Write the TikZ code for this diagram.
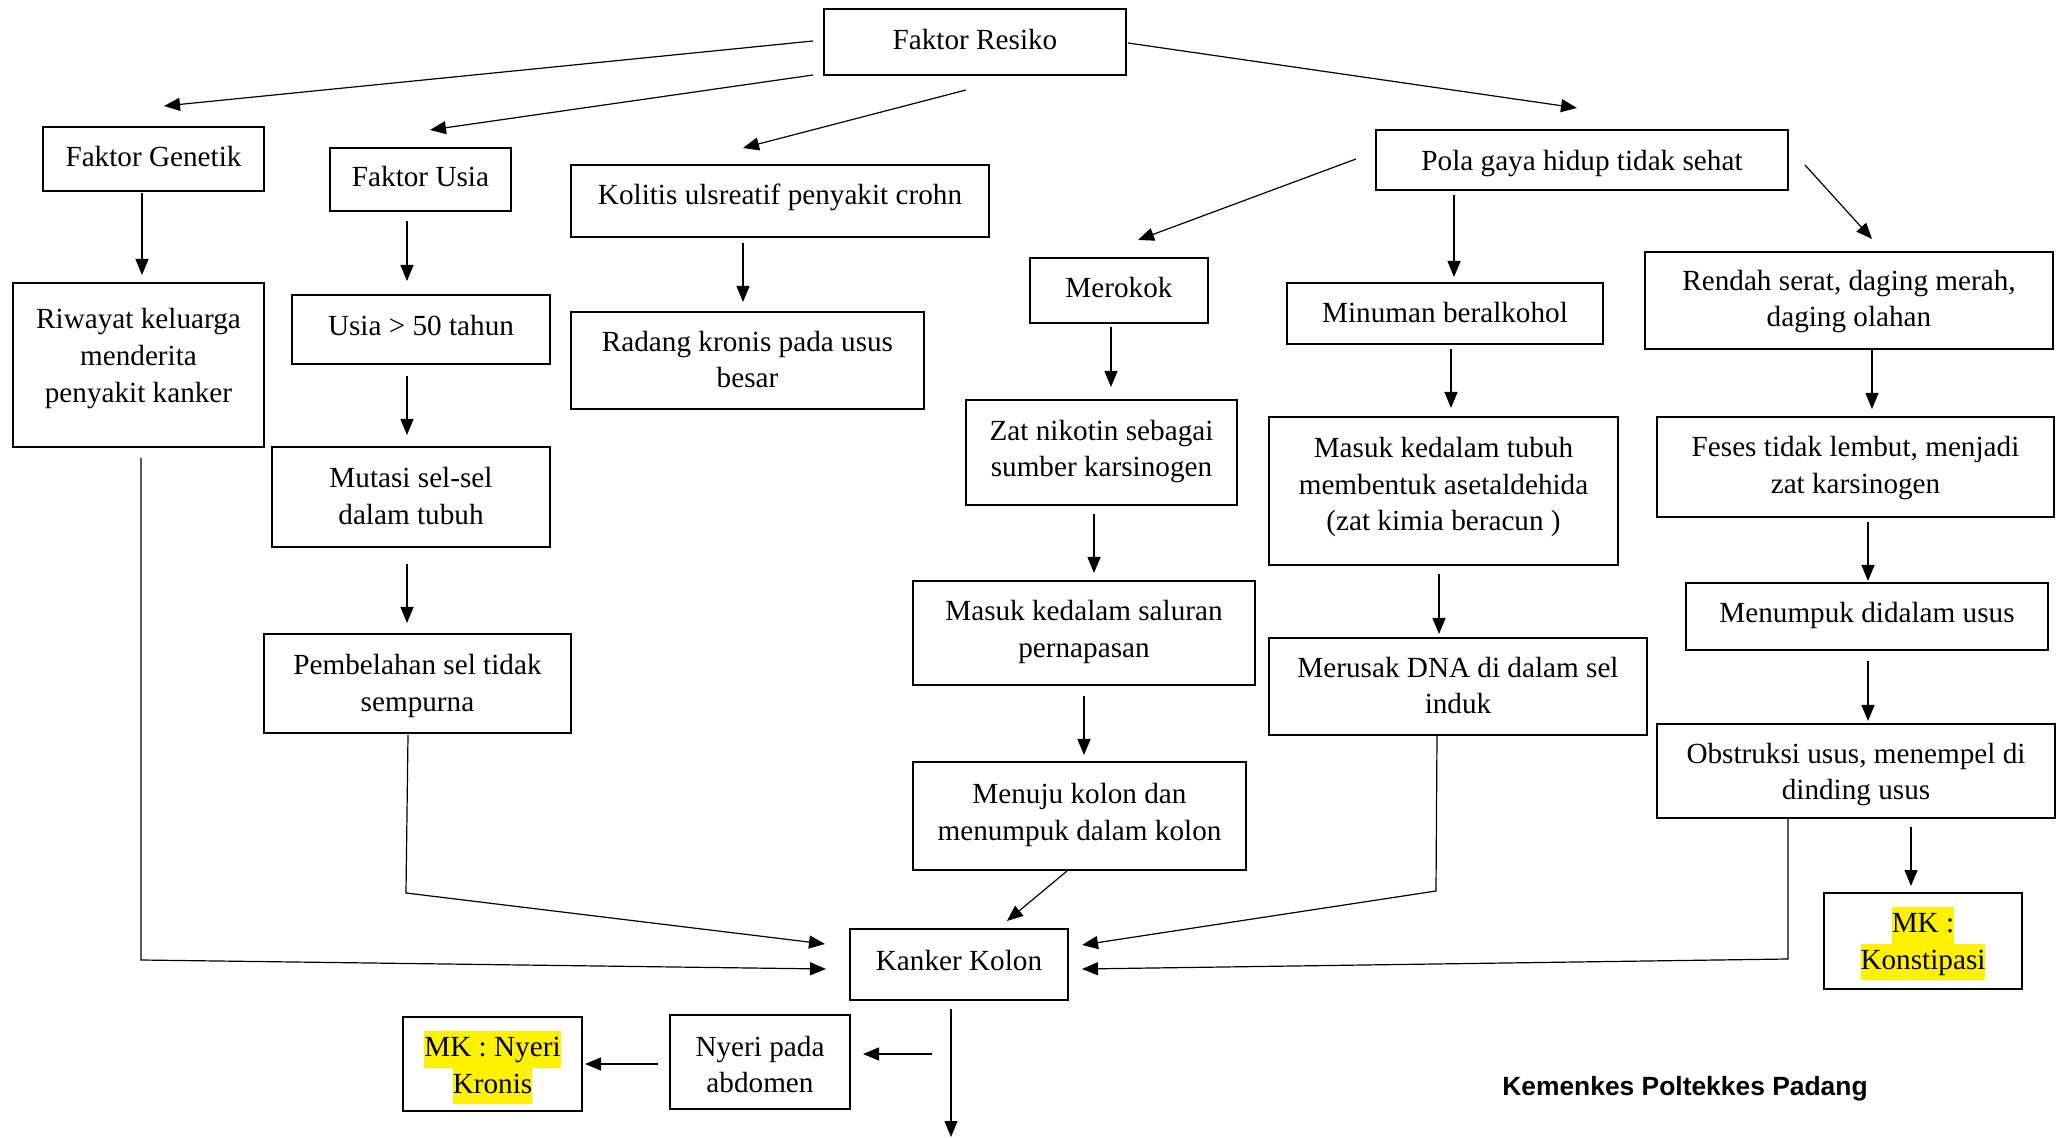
\documentclass[tikz,border=0pt]{standalone}
\usepackage{fontspec}
\setmainfont{Liberation Serif}
\newfontfamily\kemfont{Liberation Sans}
\usetikzlibrary{arrows.meta}
\newcommand{\hlt}[1]{{\setlength{\fboxsep}{0pt}\colorbox{yellow}{\strut #1}}}
% name, x1, y1, x2, y2, text, text shift up (px)
\newcommand{\boxat}[7]{%
  \node[box, minimum width={(#4-#2)*0.5pt}, minimum height={(#5-#3)*0.5pt}] (#1) at ({(#2+#4)/2},{(#3+#5)/2}) {};
  \node[boxtxt] (#1-t) at ([yshift={#7*0.5pt}]#1.center) {#6};}
\tikzset{
  box/.style={draw, line width=1pt, inner sep=0pt},
  boxtxt/.style={inner sep=0pt, align=center, font=\fontsize{14.6}{18.3}\selectfont},
  arr/.style={line width=0.6pt, -{Triangle[length=8pt,width=6.5pt]}},
}
\begin{document}
\begin{tikzpicture}[x=0.5pt,y=-0.5pt]
\useasboundingbox (0,0) rectangle (2057,1138);
% boxes
\boxat{res}{824}{9}{1126}{75}{Faktor Resiko}{2.5}
\boxat{gen}{43}{127}{264}{191}{Faktor Genetik}{2.5}
\boxat{usia}{330}{148}{511}{211}{Faktor Usia}{2.5}
\boxat{kol}{571}{165}{989}{237}{Kolitis ulsreatif penyakit crohn}{4}
\boxat{riw}{13}{283}{264}{447}{Riwayat keluarga\\menderita\\penyakit kanker}{6.5}
\boxat{u50}{292}{295}{550}{364}{Usia > 50 tahun}{4}
\boxat{rad}{571}{312}{924}{409}{Radang kronis pada usus\\besar}{1}
\boxat{mut}{272}{447}{550}{547}{Mutasi sel-sel\\dalam tubuh}{1}
\boxat{pem}{264}{634}{571}{733}{Pembelahan sel tidak\\sempurna}{-2.5}
\boxat{kan}{850}{929}{1068}{1000}{Kanker Kolon}{4}
\boxat{nye}{670}{1015}{850}{1109}{Nyeri pada\\abdomen}{-2.5}
\boxat{mkn}{403}{1017}{582}{1111}{\hlt{MK : Nyeri}\\\hlt{Kronis}}{-3.5}
\boxat{pola}{1376}{130}{1788}{190}{Pola gaya hidup tidak sehat}{-3.5}
\boxat{mer}{1030}{258}{1208}{323}{Merokok}{2.5}
\boxat{min}{1287}{283}{1603}{344}{Minuman beralkohol}{1}
\boxat{ren}{1645}{252}{2053}{349}{Rendah serat, daging merah,\\daging olahan}{-1}
\boxat{zat}{966}{400}{1237}{505}{Zat nikotin sebagai\\sumber karsinogen}{1}
\boxat{sal}{913}{581}{1255}{685}{Masuk kedalam saluran\\pernapasan}{1}
\boxat{men}{913}{762}{1246}{870}{Menuju kolon dan\\menumpuk dalam kolon}{1}
\boxat{tub}{1269}{417}{1618}{565}{Masuk kedalam tubuh\\membentuk asetaldehida\\(zat kimia beracun )}{4}
\boxat{dna}{1269}{638}{1647}{735}{Merusak DNA di dalam sel\\induk}{1}
\boxat{fes}{1657}{417}{2054}{517}{Feses tidak lembut, menjadi\\zat karsinogen}{-1}
\boxat{tum}{1686}{583}{2048}{650}{Menumpuk didalam usus}{1}
\boxat{obs}{1657}{724}{2055}{818}{Obstruksi usus, menempel di\\dinding usus}{-3.5}
\boxat{mkk}{1824}{893}{2022}{989}{\hlt{MK :}\\\hlt{Konstipasi}}{-2.5}
\node[font=\kemfont\bfseries\fontsize{13.2}{15}\selectfont] (kem) at (1685,1089) {Kemenkes Poltekkes Padang};
% bend points and free ends
\coordinate (b10) at (406,893);
\coordinate (b11) at (141,960);
\coordinate (b24) at (1436,891);
\coordinate (b29) at (1788,959);
\coordinate (e14) at (951,1137);
% connectors
\draw[arr] ([shift={(-10,-1)}]res.west) -- ([shift={(10.5,-20)}]gen.north);
\draw[arr] ([shift={(-10,33)}]res.west) -- ([shift={(9.5,-17)}]usia.north);
\draw[arr] ([shift={(-9,14)}]res.south) -- ([shift={(-37,-16)}]kol.north);
\draw[arr] ([shift={(1,1)}]res.east) -- ([shift={(-5,-21)}]pola.north);
\draw[arr] ([shift={(-11.5,1)}]gen.south) -- ([shift={(3.5,-7)}]riw.north);
\draw[arr] ([shift={(-13.5,9)}]usia.south) -- ([shift={(-14,-13)}]u50.north);
\draw[arr] ([shift={(-14,11)}]u50.south) -- ([shift={(-4,-11)}]mut.north);
\draw[arr] ([shift={(-37,5)}]kol.south) -- ([shift={(-4.5,-9)}]rad.north);
\draw[arr] ([shift={(-4,16)}]mut.south) -- ([shift={(-10.5,-10)}]pem.north);
\draw[arr] ([shift={(-9.5,1)}]pem.south) -- (b10) -- ([shift={(-24,-20.5)}]kan.west);
\draw[arr] ([shift={(2.5,10)}]riw.south) -- (b11) -- ([shift={(-23,4.5)}]kan.west);
\draw[arr] ([shift={(-27,53)}]kan.south) -- ([shift={(12,-8)}]nye.east);
\draw[arr] ([shift={(-11,2)}]nye.west) -- ([shift={(2,0)}]mkn.east);
\draw[arr] ([shift={(-8,8)}]kan.south) -- (e14);
\draw[arr] ([shift={(-19,-1)}]pola.west) -- ([shift={(19,-17)}]mer.north);
\draw[arr] ([shift={(-128,4)}]pola.south) -- ([shift={(9,-5)}]min.north);
\draw[arr] ([shift={(16,5)}]pola.east) -- ([shift={(23,-12)}]ren.north);
\draw[arr] ([shift={(-8,3)}]mer.south) -- ([shift={(9.5,-12)}]zat.north);
\draw[arr] ([shift={(-7.5,8)}]zat.south) -- ([shift={(10,-7)}]sal.north);
\draw[arr] ([shift={(0,10)}]sal.south) -- ([shift={(4.5,-6)}]men.north);
\draw[arr] ([shift={(-12.5,0)}]men.south) -- ([shift={(48,-7)}]kan.north);
\draw[arr] ([shift={(6,4)}]min.south) -- ([shift={(7.5,-8)}]tub.north);
\draw[arr] ([shift={(-4.5,8)}]tub.south) -- ([shift={(-19,-3)}]dna.north);
\draw[arr] ([shift={(-21,-1)}]dna.south) -- (b24) -- ([shift={(13,-19.5)}]kan.east);
\draw[arr] ([shift={(23,0)}]ren.south) -- ([shift={(16.5,-7)}]fes.north);
\draw[arr] ([shift={(12.5,4)}]fes.south) -- ([shift={(1,-1)}]tum.north);
\draw[arr] ([shift={(1,10)}]tum.south) -- ([shift={(12,-2)}]obs.north);
\draw[arr] ([shift={(55,8)}]obs.south) -- ([shift={(-12,-6)}]mkk.north);
\draw[arr] ([shift={(-68,-1)}]obs.south) -- (b29) -- ([shift={(13,4.5)}]kan.east);
\end{tikzpicture}
\end{document}
